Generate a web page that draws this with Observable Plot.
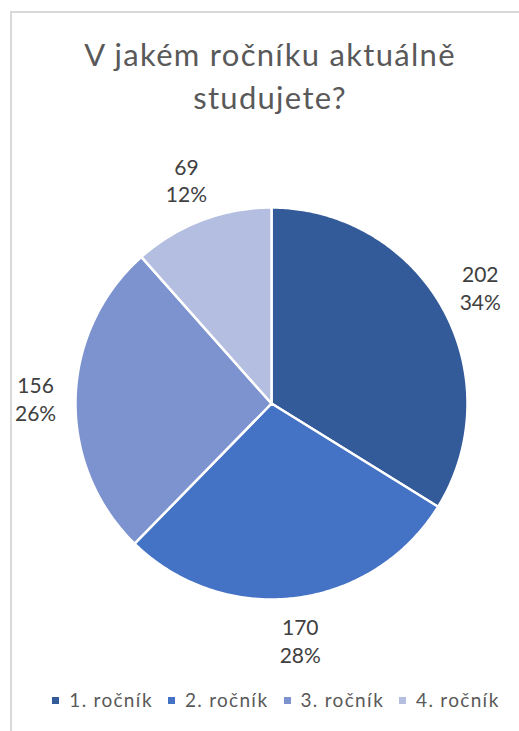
<!DOCTYPE html>
<html><head><meta charset="utf-8">
<script src="https://cdn.jsdelivr.net/npm/d3@7"></script>
<script src="https://cdn.jsdelivr.net/npm/@observablehq/plot@0.6"></script>
<style>
body{margin:0;background:#fff;font-family:Lato,"Open Sans",sans-serif;}
#wrap{position:relative;width:519px;height:731px;overflow:hidden;background:#fff;}
#frame{position:absolute;left:10px;top:11px;width:560px;height:800px;border:2px solid #d9d9d9;box-sizing:border-box;}
#title{position:absolute;left:11px;width:518px;top:33px;text-align:center;font-size:31px;letter-spacing:1.3px;line-height:43.3px;color:#595959;}
#chart{position:absolute;left:0;top:140px;}
#legend{position:absolute;left:11px;width:530px;top:688px;display:flex;justify-content:center;gap:15px;font-size:19px;letter-spacing:1.3px;line-height:24px;color:#595959;}
.item{display:flex;align-items:center;gap:10px;}
.sw{width:7px;height:7px;display:inline-block;}
</style>
</head><body>
<div id="wrap">
  <div id="frame"></div>
  <div id="title">V jakém ročníku aktuálně<br>studujete?</div>
  <div id="chart"></div>
  <div id="legend"></div>
</div>
<script>
const categories = ["1. ročník","2. ročník","3. ročník","4. ročník"];
const values = [202, 170, 156, 69];
const colors = ["#335A99","#4472C4","#7C93D0","#B4BEE0"];

const total = d3.sum(values);
const data = categories.map((c,i)=>({category:c, value:values[i], pct: Math.round(values[i]/total*100)+"%"}));
const arcs = d3.pie().sort(null).value(d=>d.value)(data);

// geometry in unit radius, angle clockwise from 12 o'clock
const pt = (a, r=1) => [r*Math.sin(a), r*Math.cos(a)];
const features = arcs.map(a => {
  const n = Math.max(8, Math.ceil((a.endAngle-a.startAngle)/0.01));
  const ring = [[0,0]];
  for (let i=0;i<=n;i++) ring.push(pt(a.startAngle + (a.endAngle-a.startAngle)*i/n));
  ring.push([0,0]);
  return {type:"Feature", properties:{category:a.data.category}, geometry:{type:"Polygon", coordinates:[ring]}};
});

const R = 196; // px radius
const labels = arcs.map(a => {
  const m = (a.startAngle+a.endAngle)/2;
  const s = Math.abs(Math.sin(m)), c = Math.abs(Math.cos(m));
  const extra = Math.min(20/(s||1e-6), 22/(c||1e-6));
  const [x,y] = pt(m, (R + 20 + extra)/R);
  return {x, y, text: a.data.value + "\n" + a.data.pct};
});

const k = 248/R;
const domain = {type:"Polygon", coordinates:[[[-k,-k],[k,-k],[k,k],[-k,k],[-k,-k]]]};

const chart = Plot.plot({
  width: 519, height: 526,
  marginLeft: 23, marginRight: 0, marginTop: 0, marginBottom: 0,
  projection: {type: "reflect-y", domain},
  color: {domain: categories, range: colors},
  style: {fontFamily: "Lato, sans-serif", background: "transparent", overflow: "visible"},
  marks: [
    Plot.geo(features, {fill: d => d.properties.category, stroke: "#fff", strokeWidth: 2.5}),
    Plot.text(labels, {x: "x", y: "y", text: "text", fontSize: 21, lineHeight: 1.33, fill: "#404040", textAnchor: "middle", lineAnchor: "middle"})
  ]
});
document.getElementById("chart").append(chart);

const legend = document.getElementById("legend");
categories.forEach((c,i)=>{
  const it = document.createElement("div"); it.className="item";
  const sw = document.createElement("span"); sw.className="sw"; sw.style.background = colors[i];
  const t = document.createElement("span"); t.textContent = c;
  it.append(sw,t); legend.append(it);
});
</script>
</body></html>
